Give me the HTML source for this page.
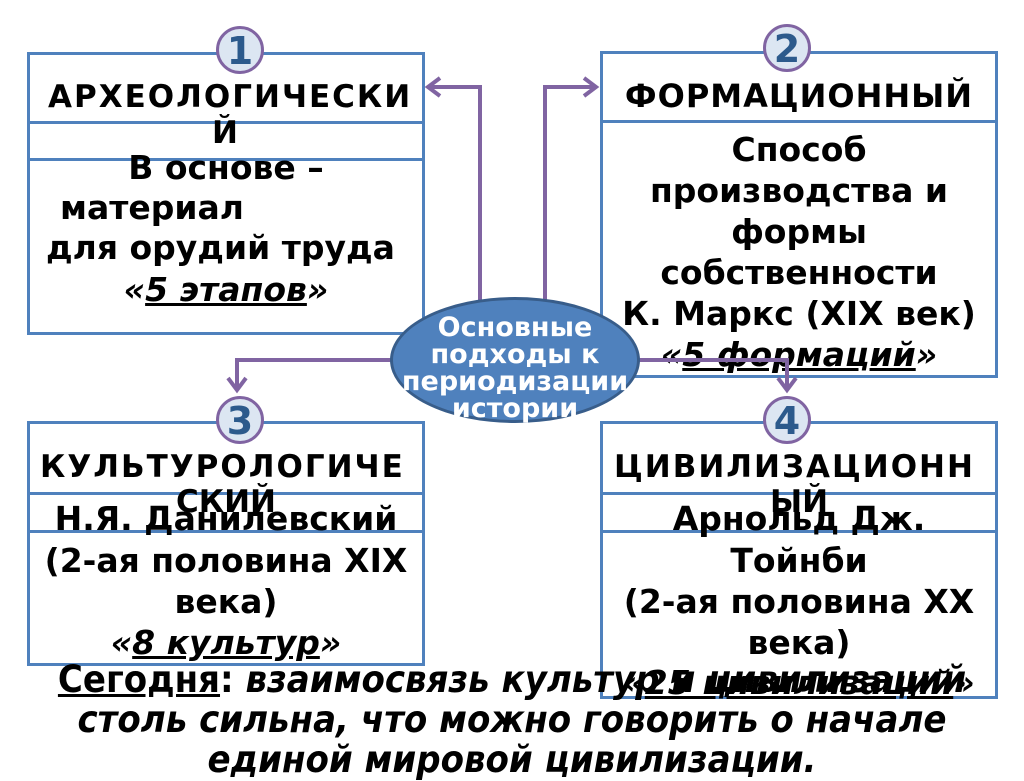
<!DOCTYPE html>
<html><head><meta charset="utf-8"><style>
body{margin:0;width:1024px;height:768px;background:#fff;position:relative;overflow:hidden;font-family:"DejaVu Sans","Liberation Sans",sans-serif;font-weight:bold;color:#000}
.box{position:absolute;border:3px solid #4f81bd;background:#fff;box-sizing:border-box}
.hl{position:absolute;left:0;right:0;border-top:3px solid #4f81bd}
.t{position:absolute;white-space:nowrap;font-size:33px;line-height:42px}
.c{text-align:center}
.circ{position:absolute;width:42px;height:42px;border:3px solid #8064a2;border-radius:50%;background:#dce6f2;color:#2c5a8c;font-size:38px;line-height:44px;text-align:center;z-index:3}
u{text-decoration:underline}
</style></head><body>
<div class="box" style="left:27px;top:52px;width:398px;height:283px"><div class="hl" style="top:66px"></div><div class="hl" style="top:103px"></div></div>
<div class="box" style="left:600px;top:51px;width:398px;height:327px"><div class="hl" style="top:66px"></div></div>
<div class="box" style="left:27px;top:421px;width:398px;height:245px"><div class="hl" style="top:68px"></div><div class="hl" style="top:106px"></div></div>
<div class="box" style="left:600px;top:421px;width:398px;height:278px"><div class="hl" style="top:68px"></div><div class="hl" style="top:106px"></div></div>
<div class="circ" style="left:216px;top:26px">1</div>
<div class="circ" style="left:763px;top:24px">2</div>
<div class="circ" style="left:216px;top:396px">3</div>
<div class="circ" style="left:763px;top:396px">4</div>
<div class="t" style="left:48px;top:76px;letter-spacing:2px;font-size:31px">АРХЕОЛОГИЧЕСКИ</div>
<div class="t" style="left:212px;top:112px;font-size:31px">Й</div>
<div class="t c" style="left:28px;width:396px;top:147px">В основе –</div>
<div class="t" style="left:60px;top:187px">материал</div>
<div class="t" style="left:46px;top:227px">для орудий труда</div>
<div class="t c" style="left:28px;width:396px;top:269px;font-style:italic">«<u>5 этапов</u>»</div>
<div class="t c" style="left:601px;width:396px;top:75px;letter-spacing:1px;font-size:32px">ФОРМАЦИОННЫЙ</div>
<div class="t c" style="left:601px;width:396px;top:129px;line-height:41px">Способ<br>производства и<br>формы<br>собственности<br>К. Маркс (XIX век)</div>
<div class="t c" style="left:601px;width:396px;top:334px;font-style:italic">«<u>5 формаций</u>»</div>
<div class="t" style="left:40px;top:446px;letter-spacing:2px;font-size:31px">КУЛЬТУРОЛОГИЧЕ</div>
<div class="t c" style="left:28px;width:396px;top:481px;font-size:31px">СКИЙ</div>
<div class="t c" style="left:28px;width:396px;top:498px">Н.Я. Данилевский</div>
<div class="t c" style="left:28px;width:396px;top:540px;line-height:41px">(2-ая половина XIX<br>века)</div>
<div class="t c" style="left:28px;width:396px;top:622px;font-style:italic">«<u>8 культур</u>»</div>
<div class="t" style="left:614px;top:446px;letter-spacing:2px;font-size:31px">ЦИВИЛИЗАЦИОНН</div>
<div class="t c" style="left:601px;width:396px;top:481px;font-size:31px">ЫЙ</div>
<div class="t c" style="left:601px;width:396px;top:498px">Арнольд Дж.</div>
<div class="t c" style="left:601px;width:396px;top:540px;line-height:41px">Тойнби<br>(2-ая половина XX<br>века)</div>
<div class="t c" style="left:601px;width:396px;top:662px;font-style:italic">«<u>25 цивилизаций</u>»</div>
<svg width="1024" height="768" style="position:absolute;left:0;top:0;z-index:1">
<g fill="none" stroke="#8064a2" stroke-width="4">
<polyline points="480,300 480,87 428,87"/><polyline points="440,78 428,87 440,96"/>
<polyline points="545,300 545,87 596,87"/><polyline points="584,78 596,87 584,96"/>
<polyline points="400,360 237,360 237,390"/><polyline points="228,378 237,390 246,378"/>
<polyline points="630,360 787,360 787,390"/><polyline points="778,378 787,390 796,378"/>
</g></svg>
<div style="position:absolute;left:390px;top:297px;width:250px;height:126px;border:3px solid #385d8a;border-radius:50%;background:#4f81bd;box-sizing:border-box;z-index:2"></div>
<div class="t c" style="left:385px;width:260px;top:314px;color:#fff;font-size:27px;line-height:27px;z-index:2">Основные<br>подходы к<br>периодизации<br>истории</div>
<div style="position:absolute;left:0;width:1024px;top:660px;text-align:center;font-size:37px;line-height:40px;font-style:italic;white-space:nowrap;transform:scaleX(0.92);z-index:4"><span style="font-style:normal"><u>Сегодня</u>:</span> взаимосвязь культур и цивилизаций<br>столь сильна, что можно говорить о начале<br>единой мировой цивилизации.</div>
</body></html>
